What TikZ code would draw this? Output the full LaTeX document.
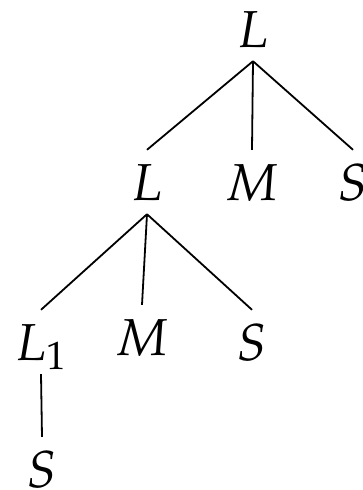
\documentclass[tikz,border=0pt]{standalone}
\usepackage{mathpazo}
\begin{document}
\begin{tikzpicture}[x=1pt,y=-1pt,
  lab/.style={anchor=base,font=\fontsize{52}{60}\selectfont,text height=36pt,text depth=0pt,inner xsep=0pt,inner ysep=14pt},
  edge/.style={line width=1.8pt}]
\useasboundingbox (0,0) rectangle (363,490);
\node[lab] (r) at (253,47) {$L$};
\node[lab] (a) at (147,200) {$L$};
\node[lab] (b) at (252,200) {$M$};
\node[lab] (c) at (353,200) {$S$};
\node[lab] (d) at (41,360) {$L_1$};
\node[lab] (e) at (142,355) {$M$};
\node[lab] (f) at (252,360) {$S$};
\node[lab] (g) at (42,487) {$S$};
\draw[edge] (r.south) -- (a.north);
\draw[edge] (r.south) -- (b.north);
\draw[edge] (r.south) -- (c.north);
\draw[edge] (a.south) -- (d.north);
\draw[edge] (a.south) -- (e.north);
\draw[edge] (a.south) -- (f.north);
\draw[edge] (d.south) -- (g.north);
\end{tikzpicture}
\end{document}
